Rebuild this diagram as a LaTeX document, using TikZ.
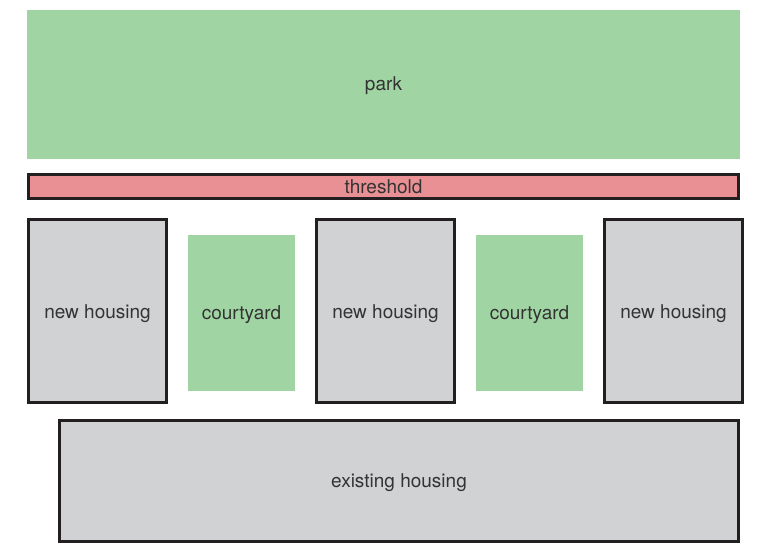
\documentclass[tikz,border=0pt]{standalone}
\usepackage{fontspec}
\setmainfont{TeX Gyre Heros}
\definecolor{parkgreen}{HTML}{A0D5A3}
\definecolor{threshred}{HTML}{E89093}
\definecolor{housegray}{HTML}{D1D2D4}
\definecolor{edgedark}{HTML}{231F20}
\definecolor{textdark}{HTML}{333333}
\begin{document}
\begin{tikzpicture}[x=1pt,y=-1pt,
  zone/.style={rectangle,inner sep=0pt,outer sep=0pt,text=textdark,font=\fontsize{19}{22}\selectfont,text height=17pt,text depth=4pt},
  greenzone/.style={zone,fill=parkgreen},
  housebox/.style={zone,fill=housegray,draw=edgedark,line width=3.4pt},
  threshbox/.style={zone,fill=threshred,draw=edgedark,line width=3.2pt}]
\useasboundingbox[fill=white] (0,0) rectangle (764,548);
% park
\node[greenzone,minimum width=713pt,minimum height=149pt] (park) at (383.5,84.5) {park};
% threshold (outer 27..740, 173..200)
\node[threshbox,text height=19pt,minimum width=709.8pt,minimum height=23.8pt] (threshold) at (383.5,186.5) {threshold};
% new housing (outer 218..404)
\node[housebox,text height=19pt,minimum width=137.6pt,minimum height=182.6pt] (nh1) at (97.5,311) {new housing};
\node[housebox,text height=19pt,minimum width=137.6pt,minimum height=182.6pt] (nh2) at (385.5,311) {new housing};
\node[housebox,text height=19pt,minimum width=137.6pt,minimum height=182.6pt] (nh3) at (673.5,311) {new housing};
% courtyards
\node[greenzone,minimum width=107pt,minimum height=156pt] (cy1) at (241.5,313) {courtyard};
\node[greenzone,minimum width=107pt,minimum height=156pt] (cy2) at (529.5,313) {courtyard};
% existing housing (outer 58..740, 419..543)
\node[housebox,minimum width=678.6pt,minimum height=120.6pt] (eh) at (399,481) {existing housing};
\end{tikzpicture}
\end{document}
